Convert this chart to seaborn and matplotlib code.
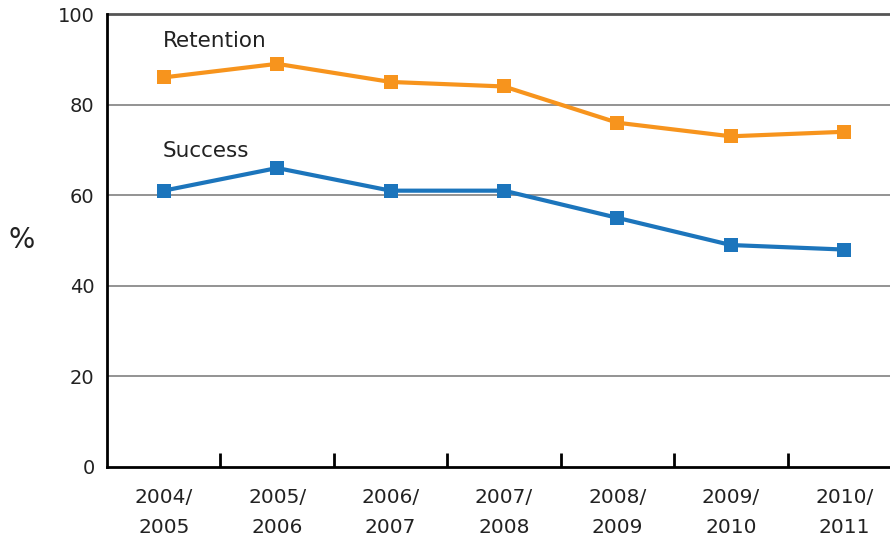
import matplotlib
matplotlib.use("Agg")
import matplotlib.pyplot as plt
import seaborn as sns
import pandas as pd
import numpy as np

years = ["2004/\n2005", "2005/\n2006", "2006/\n2007", "2007/\n2008",
         "2008/\n2009", "2009/\n2010", "2010/\n2011"]
retention = [86, 89, 85, 84, 76, 73, 74]
success = [61, 66, 61, 61, 55, 49, 48]

sns.set_theme(style="white")
plt.rcParams['font.family'] = ['DejaVu Sans']

df = pd.DataFrame({
    "x": list(range(len(years))) * 2,
    "value": retention + success,
    "series": ["Retention"] * len(years) + ["Success"] * len(years),
})

fig = plt.figure(figsize=(8.9, 5.42), dpi=100)
ax = fig.add_axes([107 / 890, 1 - 467 / 542, (901 - 107) / 890, (467 - 14) / 542])

for y in [20, 40, 60, 80]:
    ax.axhline(y, color="#8a8a8a", lw=1.3, zorder=0)
ax.axhline(100, color="#555555", lw=2.0, zorder=0, clip_on=False)

sns.lineplot(data=df, x="x", y="value", hue="series",
             palette={"Retention": "#F7941D", "Success": "#1C75BC"},
             marker="s", markersize=9.5, markeredgewidth=0, lw=3,
             legend=False, ax=ax)

ax.set_xlim(-0.5, 6.5)
ax.set_ylim(0, 100)
ax.set_yticks([0, 20, 40, 60, 80, 100])
ax.set_yticklabels(["0", "20", "40", "60", "80", "100"], fontsize=14, color="#222222")
ax.tick_params(axis="y", length=0, pad=9)

ax.set_xticks(np.arange(len(years)))
ax.set_xticklabels(years, fontsize=14.5, color="#222222", linespacing=1.75)
ax.tick_params(axis="x", which="major", bottom=False, length=0, pad=15)
ax.set_xticks(np.arange(0.5, len(years) - 0.5, 1), minor=True)
ax.tick_params(axis="x", which="minor", bottom=True, direction="in",
               length=10, width=2, color="black")

for s in ["top", "right"]:
    ax.spines[s].set_visible(False)
for s in ["left", "bottom"]:
    ax.spines[s].set_color("black")
    ax.spines[s].set_linewidth(2)

ax.set_xlabel("")
ax.set_ylabel("%", fontsize=20, rotation=0, color="#222222", labelpad=26, va="center")

ax.text(-0.01, 94, "Retention", fontsize=15.5, color="#222222", ha="left", va="center")
ax.text(-0.01, 69.8, "Success", fontsize=15.5, color="#222222", ha="left", va="center")

fig.savefig("out.png", dpi=100)
